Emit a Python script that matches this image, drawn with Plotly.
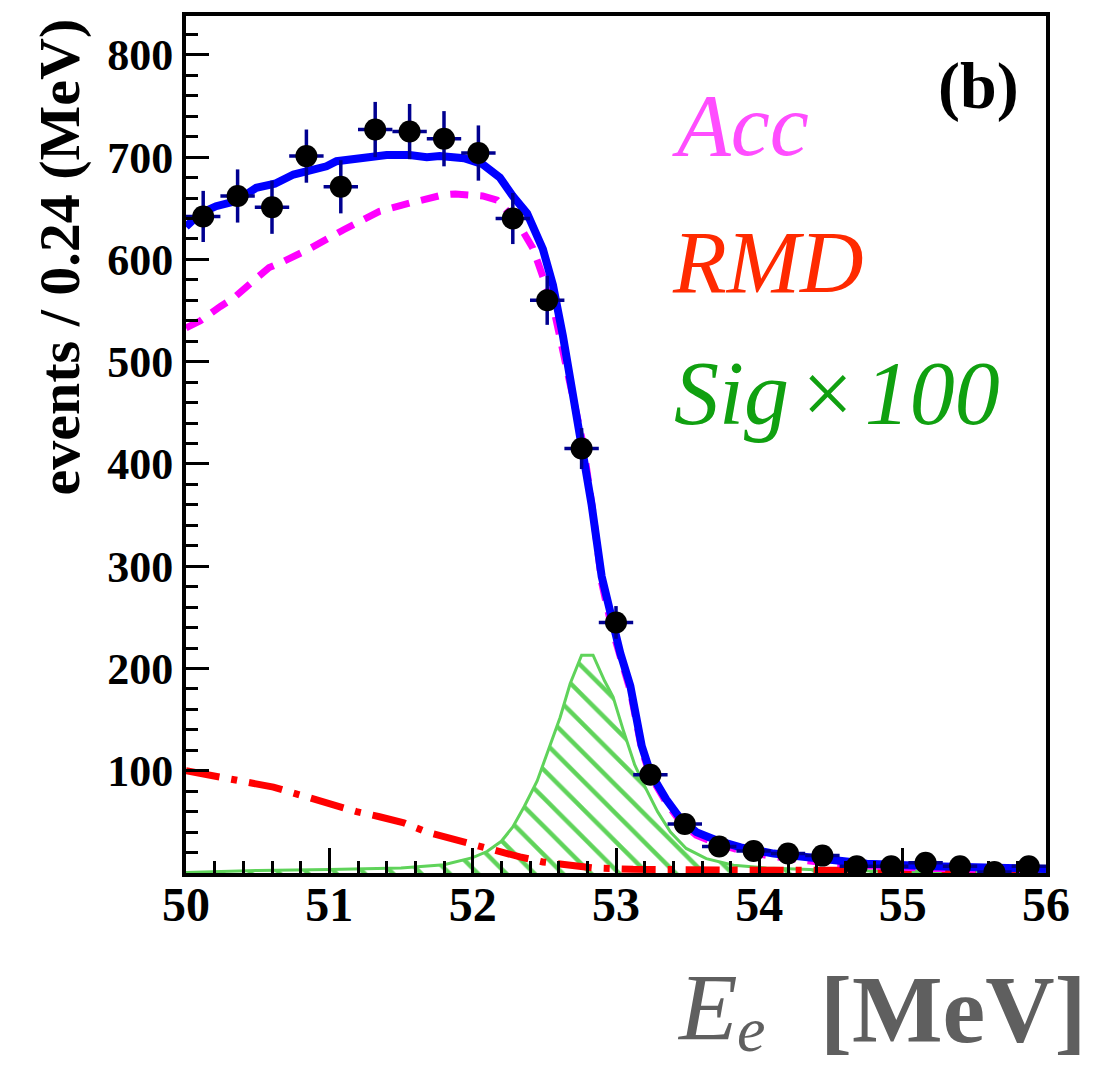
import plotly.graph_objects as go

# ---------------- data ----------------
# measured points (bin centres, 0.24 MeV bins)
data_x = [50.12, 50.36, 50.60, 50.84, 51.08, 51.32, 51.56, 51.80, 52.04, 52.28,
          52.52, 52.76, 53.00, 53.24, 53.48, 53.72, 53.96, 54.20, 54.44, 54.68,
          54.92, 55.16, 55.40, 55.64, 55.88]
data_y = [642, 662, 651, 701, 671, 727, 725, 718, 704, 640,
          560, 415, 245, 96, 48, 26, 21.5, 19, 17, 6.5,
          6.5, 10, 6.5, 1, 6.5]
data_err = [25, 26, 26, 26, 26, 27, 27, 27, 27, 25,
            24, 20, 16, 10, 7, 5, 5, 4, 4, 3,
            3, 3, 3, 1, 3]
bin_half = 0.12

# total fit (blue)
tot_x = [50.00, 50.10, 50.21, 50.35, 50.49, 50.62, 50.75, 50.87, 50.98, 51.05,
         51.19, 51.33, 51.40, 51.56, 51.68, 51.77, 51.94, 52.07, 52.19, 52.28,
         52.38, 52.49, 52.56, 52.63, 52.70, 52.76, 52.83, 52.90, 52.97, 53.03,
         53.10, 53.14, 53.18, 53.24, 53.35, 53.45, 53.56, 53.70, 53.87, 54.10,
         54.40, 54.75, 55.21, 55.68, 56.00]
tot_y = [632, 645, 652, 657, 670, 674, 683, 688, 691, 696,
         698, 700, 702, 702, 700, 701, 699, 693, 680, 662,
         645, 610, 575, 525, 470, 418, 360, 290, 245, 215,
         183, 153, 124, 98, 72, 53, 40, 32, 25, 19,
         14, 9, 6.5, 5, 4]

# accidental background (magenta dashed)
acc_x = [50.00, 50.10, 50.24, 50.33, 50.47, 50.58, 50.68, 50.87, 51.10, 51.35,
         51.56, 51.79, 51.88, 52.07, 52.17, 52.31, 52.42, 52.49, 52.56, 52.63,
         52.70, 52.77, 52.84, 52.90, 52.97, 53.03, 53.10, 53.18, 53.24, 53.35,
         53.45, 53.56, 53.70, 53.87, 54.10, 54.40, 54.75, 55.21, 55.68, 56.00]
acc_y = [533, 540, 554, 562, 579, 592, 598, 611, 629, 647,
         655, 663, 664, 662, 658, 637, 611, 582, 555, 510,
         462, 420, 352, 284, 240, 210, 178, 120, 95, 69,
         50, 37, 29, 22, 16, 11, 7, 4.5, 3, 2.5]

# radiative muon decay (red dash-dot)
rmd_x = [50.00, 50.21, 50.40, 50.61, 50.73, 51.03, 51.19, 51.35, 51.52, 51.68,
         51.84, 52.00, 52.17, 52.33, 52.49, 52.66, 52.84, 53.12, 53.50, 54.00,
         55.00, 56.00]
rmd_y = [100, 95, 90, 84, 79, 66, 60, 55, 49, 40,
         34, 27, 21, 15.7, 10.8, 7.5, 5, 3.6, 3, 2.8,
         2.5, 2.3]

# signal x 100 (green hatched)
sig_x = [50.00, 50.50, 51.00, 51.50, 51.80, 52.00, 52.10, 52.20, 52.28, 52.36,
         52.45, 52.54, 52.61, 52.68, 52.76, 52.84, 52.92, 52.98, 53.05, 53.13,
         53.20, 53.29, 53.38, 53.49, 53.63, 53.82, 54.05, 54.50, 55.00, 56.00]
sig_y = [0.5, 2.5, 3.5, 5, 8, 15, 21, 31, 45, 65,
         90, 125, 152, 185, 213, 213, 188, 172, 140, 106,
         85, 60, 40, 24, 14, 7.5, 5, 2.6, 1.5, 1]

y_ticks = [100, 200, 300, 400, 500, 600, 700, 800]
x_ticks = [50, 51, 52, 53, 54, 55, 56]

# ---------------- figure ----------------
SIG_GREEN = "#5fd35a"
fig = go.Figure()

fig.add_trace(go.Scatter(
    x=sig_x, y=sig_y, mode="lines",
    line=dict(color=SIG_GREEN, width=3),
    fill="tozeroy", fillcolor="rgba(0,0,0,0)",
    fillpattern=dict(shape="\\", fgcolor=SIG_GREEN, bgcolor="rgba(0,0,0,0)",
                     size=20, solidity=0.22, fgopacity=1),
    hoverinfo="skip"))

fig.add_trace(go.Scatter(
    x=rmd_x, y=rmd_y, mode="lines",
    line=dict(color="#ff0000", width=7, dash="34px,12px,6px,12px"),
    hoverinfo="skip"))

fig.add_trace(go.Scatter(
    x=acc_x, y=acc_y, mode="lines",
    line=dict(color="#ff00ff", width=7, dash="18px,12px"),
    hoverinfo="skip"))

fig.add_trace(go.Scatter(
    x=tot_x, y=tot_y, mode="lines",
    line=dict(color="#0000ff", width=8),
    hoverinfo="skip"))

fig.add_trace(go.Scatter(
    x=data_x, y=data_y, mode="markers",
    marker=dict(color="black", size=22, symbol="circle"),
    error_y=dict(type="data", array=data_err, color="#000090", thickness=3.5, width=0),
    error_x=dict(type="constant", value=bin_half, color="#000090", thickness=3.5, width=0),
    hoverinfo="skip"))

fig.update_xaxes(
    range=[50, 56], tickmode="array", tickvals=x_ticks,
    ticks="inside", ticklen=25, tickwidth=3, tickcolor="black",
    minor=dict(tickmode="linear", tick0=50, dtick=0.2, ticks="inside",
               ticklen=12, tickwidth=3, tickcolor="black"),
    showline=True, linewidth=4, linecolor="black", mirror=True,
    showgrid=False, zeroline=False, ticklabelstandoff=-14,
    tickfont=dict(family="Liberation Serif", size=48, color="black", weight="bold"))

fig.update_yaxes(
    range=[0, 838], tickmode="array", tickvals=y_ticks,
    ticks="inside", ticklen=23, tickwidth=3, tickcolor="black",
    minor=dict(tickmode="linear", tick0=0, dtick=20, ticks="inside",
               ticklen=12, tickwidth=3, tickcolor="black"),
    showline=True, linewidth=4, linecolor="black", mirror=True,
    showgrid=False, zeroline=False,
    tickfont=dict(family="Liberation Serif", size=44, color="black", weight="bold"))

W, H = 1097, 1073
L, R, T, B = 186, 51, 14, 200
pw, ph = W - L - R, H - T - B


def px_x(p):
    return (p - L) / pw


def px_y(p):
    return (H - B - p) / ph


ann = []
ann.append(dict(text="<i>Acc</i>", x=px_x(670), y=px_y(124), xanchor="left", yanchor="middle",
                font=dict(family="Liberation Serif", size=88, color="#ff4dff")))
ann.append(dict(text="<i>RMD</i>", x=px_x(670), y=px_y(261), xanchor="left", yanchor="middle",
                font=dict(family="Liberation Serif", size=88, color="#ff2a00")))
ann.append(dict(text="<i>Sig\u200a×\u200a100</i>", x=px_x(672), y=px_y(392), xanchor="left",
                yanchor="middle",
                font=dict(family="Liberation Serif", size=90, color="#10a010")))
ann.append(dict(text="<b>(b)</b>", x=px_x(1021), y=px_y(84), xanchor="right", yanchor="middle",
                font=dict(family="Liberation Serif", size=66, color="black")))
ann.append(dict(text="<b>events / 0.24 (MeV)</b>", x=px_x(59), y=px_y(256), textangle=-90,
                xanchor="center", yanchor="middle",
                font=dict(family="Liberation Serif", size=58, color="black")))
# x-axis title, pieces placed separately for E, subscript e and [MeV]
GRAY = "#5f5f5f"
ann.append(dict(text="<i>E</i>", x=px_x(675), y=px_y(1008), xanchor="left", yanchor="middle",
                font=dict(family="Liberation Serif", size=96, color=GRAY)))
ann.append(dict(text="<i>e</i>", x=px_x(735), y=px_y(1030), xanchor="left", yanchor="middle",
                font=dict(family="Liberation Serif", size=64, color=GRAY)))
ann.append(dict(text="<b>[MeV]</b>", x=px_x(1088), y=px_y(1010), xanchor="right", yanchor="middle",
                font=dict(family="Liberation Serif", size=96, color=GRAY)))
for a in ann:
    a.update(xref="paper", yref="paper", showarrow=False)

fig.update_layout(
    width=W, height=H,
    margin=dict(l=L, r=R, t=T, b=B),
    plot_bgcolor="white", paper_bgcolor="white",
    showlegend=False, annotations=ann)

fig.write_html("out.html")
